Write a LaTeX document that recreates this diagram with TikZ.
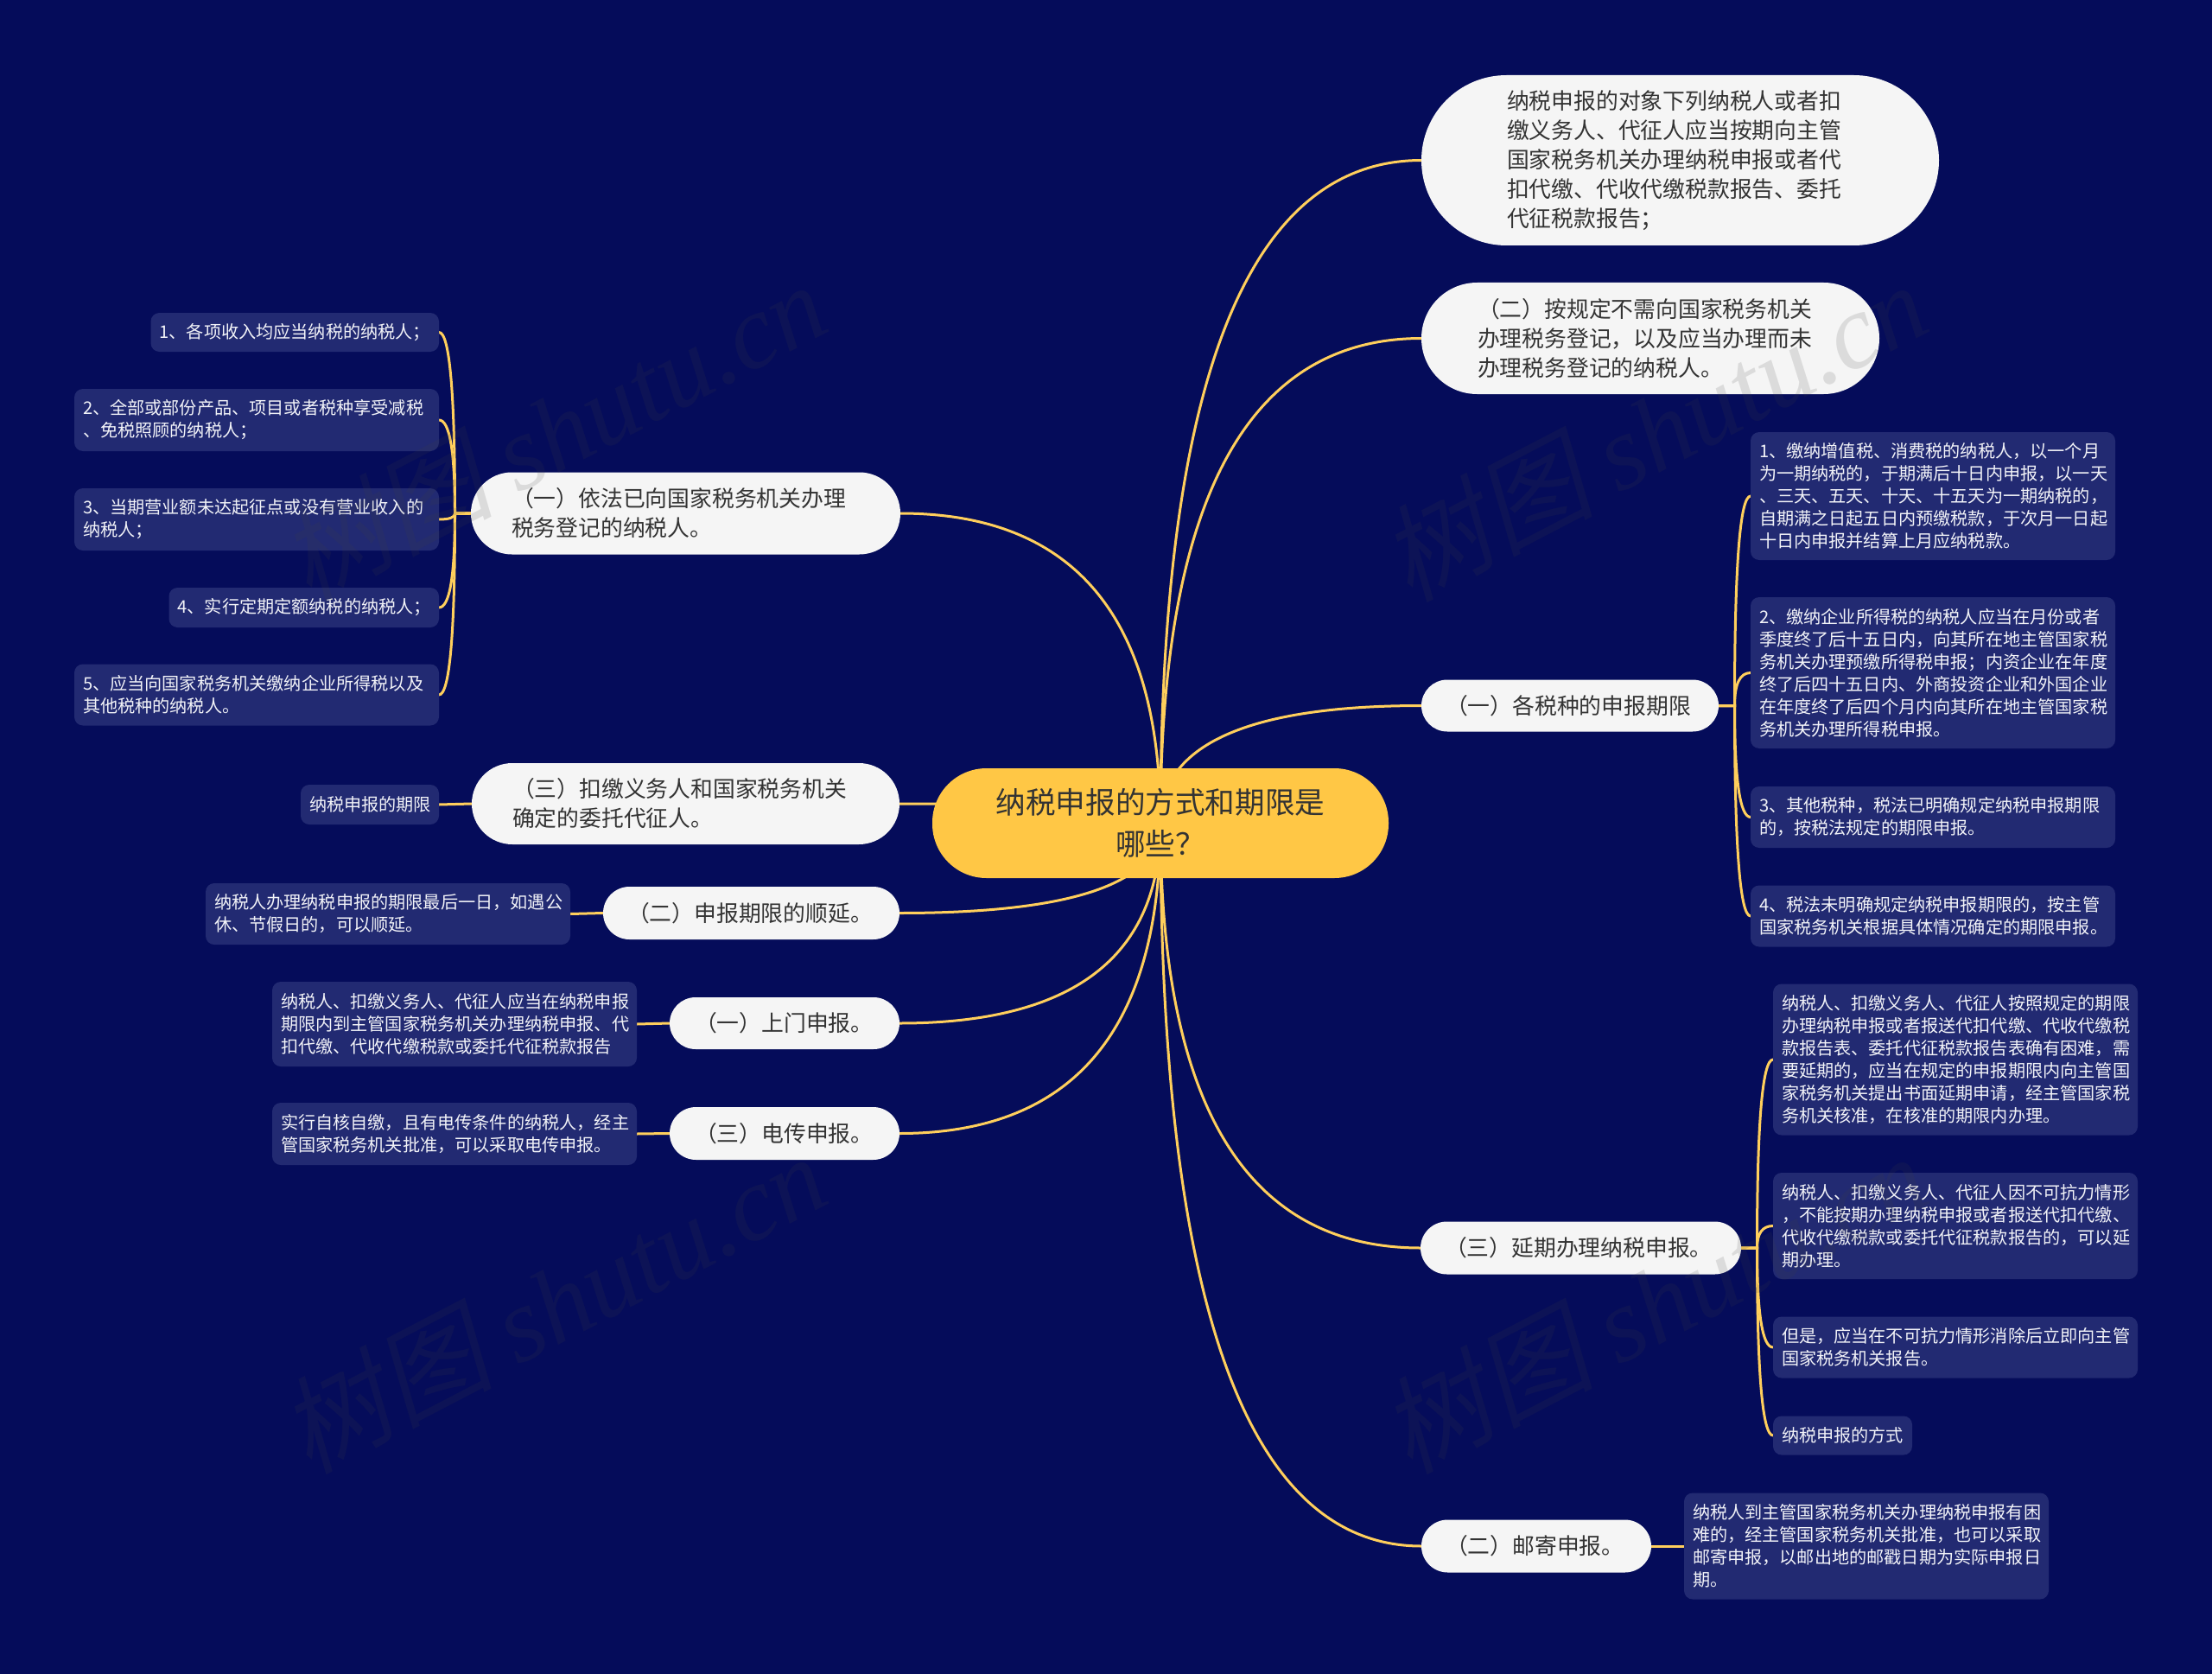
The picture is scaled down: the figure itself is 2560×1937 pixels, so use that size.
\documentclass[tikz,border=0pt]{standalone}
\usepackage{fontspec}
\setmainfont{Noto Sans CJK SC}
\newfontfamily\wmlatin{Liberation Serif}
\newfontfamily\wmcjk[FakeSlant=0.2]{Noto Sans CJK SC}
\usetikzlibrary{backgrounds,calc}
\definecolor{bgc}{HTML}{050C5A}
\definecolor{leafc}{HTML}{222A72}
\definecolor{pillc}{HTML}{F5F5F5}
\definecolor{rootc}{HTML}{FFC745}
\definecolor{linec}{HTML}{FFCF5C}
\definecolor{darktext}{HTML}{333333}
\definecolor{lighttext}{HTML}{F2F3F8}
\definecolor{wmc}{HTML}{404040}
\tikzset{
  x=0.75pt,y=-0.75pt,
  boxbase/.style={inner sep=0pt,outer sep=0pt,align=left},
  leafbox/.style 2 args={boxbase,fill=leafc,text=lighttext,rounded corners=7.5pt,
    minimum width=#1*0.75pt,minimum height=#2*0.75pt,text width=(#1-20)*0.75pt,
    font=\fontsize{15.12}{19.5}\selectfont},
  pillbox/.style n args={3}{boxbase,fill=pillc,text=darktext,rounded corners=(#2/2)*0.75pt,
    minimum width=#1*0.75pt,minimum height=#2*0.75pt,text width=(#1-2*#3)*0.75pt,
    font=\fontsize{19.35}{25.5}\selectfont},
  conn/.style={draw=linec,line width=2.25pt,line cap=round},
  watermark/.style={rotate=27.5,opacity=0.14,text=wmc,anchor=center,inner sep=0pt,font=\fontsize{92}{92}\selectfont},
}
\newcommand{\rootlink}[1]{%
  \draw[conn] let \p1=(root.center),\p2=(#1) in
    (\p1) .. controls (\x1,{\y1+0.6667*(\y2-\y1)}) and ({\x2+0.6667*(\x1-\x2)},\y2) .. (\p2);}
\newcommand{\bracketlink}[2]{%
  \draw[conn] let \p1=(#1),\p2=(#2),\n1={(\x1+\x2)/2} in
    (\p1) -- (\n1,\y1) .. controls (\n1,{\y1+0.6667*(\y2-\y1)}) and ({\x2+0.6667*(\n1-\x2)},\y2) .. (\p2);}
\begin{document}
\begin{tikzpicture}
\useasboundingbox (0,0) rectangle (2560,1937);
% root
\node[boxbase,fill=rootc,text=darktext,rounded corners=47pt,minimum width=396pt,minimum height=95.25pt,
  text width=330pt,align=center,font=\fontsize{25.95}{36}\selectfont] (root) at (1343,952.5) {纳税申报的方式和期限是\\哪些？};
% right side
\node[pillbox={599}{197}{99}] (t1) at (1944.5,185.5) {纳税申报的对象下列纳税人或者扣\\缴义务人、代征人应当按期向主管\\国家税务机关办理纳税申报或者代\\扣代缴、代收代缴税款报告、委托\\代征税款报告；};
\node[pillbox={530}{129}{65}] (t2) at (1910,391.5) {（二）按规定不需向国家税务机关\\办理税务登记，以及应当办理而未\\办理税务登记的纳税人。};
\node[pillbox={344}{60}{28}] (p1) at (1817,816.5) {（一）各税种的申报期限};
\node[leafbox={422}{148}] (r1) at (2237,574) {1、缴纳增值税、消费税的纳税人，以一个月\\为一期纳税的，于期满后十日内申报，以一天\\、三天、五天、十天、十五天为一期纳税的，\\自期满之日起五日内预缴税款，于次月一日起\\十日内申报并结算上月应纳税款。};
\node[leafbox={422}{175}] (r2) at (2237,778.5) {2、缴纳企业所得税的纳税人应当在月份或者\\季度终了后十五日内，向其所在地主管国家税\\务机关办理预缴所得税申报；内资企业在年度\\终了后四十五日内、外商投资企业和外国企业\\在年度终了后四个月内向其所在地主管国家税\\务机关办理所得税申报。};
\node[leafbox={422}{71}] (r3) at (2237,945.5) {3、其他税种，税法已明确规定纳税申报期限\\的，按税法规定的期限申报。};
\node[leafbox={422}{71}] (r4) at (2237,1060) {4、税法未明确规定纳税申报期限的，按主管\\国家税务机关根据具体情况确定的期限申报。};
\node[pillbox={371}{61}{28}] (p2) at (1829.5,1444) {（三）延期办理纳税申报。};
\node[leafbox={422}{175}] (s1) at (2263,1226) {纳税人、扣缴义务人、代征人按照规定的期限\\办理纳税申报或者报送代扣代缴、代收代缴税\\款报告表、委托代征税款报告表确有困难，需\\要延期的，应当在规定的申报期限内向主管国\\家税务机关提出书面延期申请，经主管国家税\\务机关核准，在核准的期限内办理。};
\node[leafbox={422}{123}] (s2) at (2263,1418.5) {纳税人、扣缴义务人、代征人因不可抗力情形\\，不能按期办理纳税申报或者报送代扣代缴、\\代收代缴税款或委托代征税款报告的，可以延\\期办理。};
\node[leafbox={422}{71}] (s3) at (2263,1559) {但是，应当在不可抗力情形消除后立即向主管\\国家税务机关报告。};
\node[leafbox={161}{45}] (s4) at (2132.5,1661) {纳税申报的方式};
\node[pillbox={266}{61}{28}] (p3) at (1778,1789) {（二）邮寄申报。};
\node[leafbox={422}{123}] (q1) at (2160,1789) {纳税人到主管国家税务机关办理纳税申报有困\\难的，经主管国家税务机关批准，也可以采取\\邮寄申报，以邮出地的邮戳日期为实际申报日\\期。};
% left side
\node[pillbox={497}{95}{47}] (a1) at (793.5,594) {（一）依法已向国家税务机关办理\\税务登记的纳税人。};
\node[leafbox={333.5}{45}] (l1) at (341.25,384.5) {1、各项收入均应当纳税的纳税人；};
\node[leafbox={422}{72}] (l2) at (297,486) {2、全部或部份产品、项目或者税种享受减税\\、免税照顾的纳税人；};
\node[leafbox={422}{72}] (l3) at (297,601) {3、当期营业额未达起征点或没有营业收入的\\纳税人；};
\node[leafbox={312.5}{46}] (l4) at (351.75,703) {4、实行定期定额纳税的纳税人；};
\node[leafbox={422}{71}] (l5) at (297,804) {5、应当向国家税务机关缴纳企业所得税以及\\其他税种的纳税人。};
\node[pillbox={495}{94}{47}] (a3) at (793.5,930) {（三）扣缴义务人和国家税务机关\\确定的委托代征人。};
\node[leafbox={160}{46}] (l6) at (428,931) {纳税申报的期限};
\node[pillbox={343}{61}{28}] (a2) at (869.5,1056.5) {（二）申报期限的顺延。};
\node[leafbox={422}{71}] (l7) at (449,1057.5) {纳税人办理纳税申报的期限最后一日，如遇公\\休、节假日的，可以顺延。};
\node[pillbox={266}{60}{29}] (a4) at (908,1184) {（一）上门申报。};
\node[leafbox={422}{98}] (l8) at (526,1185) {纳税人、扣缴义务人、代征人应当在纳税申报\\期限内到主管国家税务机关办理纳税申报、代\\扣代缴、代收代缴税款或委托代征税款报告};
\node[pillbox={266}{61}{29}] (a5) at (908,1311.5) {（三）电传申报。};
\node[leafbox={422}{72}] (l9) at (526,1312) {实行自核自缴，且有电传条件的纳税人，经主\\管国家税务机关批准，可以采取电传申报。};
% connectors below the nodes
\begin{scope}[on background layer]
\fill[bgc] (0,0) rectangle (2560,1937);
\rootlink{t1.west}\rootlink{t2.west}\rootlink{p1.west}\rootlink{p2.west}\rootlink{p3.west}
\rootlink{a1.east}\rootlink{a3.east}\rootlink{a2.east}\rootlink{a4.east}\rootlink{a5.east}
\bracketlink{p1.east}{r1.west}\bracketlink{p1.east}{r2.west}\bracketlink{p1.east}{r3.west}\bracketlink{p1.east}{r4.west}
\bracketlink{p2.east}{s1.west}\bracketlink{p2.east}{s2.west}\bracketlink{p2.east}{s3.west}\bracketlink{p2.east}{s4.west}
\bracketlink{a1.west}{l1.east}\bracketlink{a1.west}{l2.east}\bracketlink{a1.west}{l3.east}\bracketlink{a1.west}{l4.east}\bracketlink{a1.west}{l5.east}
\draw[conn] (p3.east) -- (q1.west);
\draw[conn] (a3.west) -- (l6.east);
\draw[conn] (a2.west) -- (l7.east);
\draw[conn] (a4.west) -- (l8.east);
\draw[conn] (a5.west) -- (l9.east);
\end{scope}
% watermarks
\node[watermark] (w1) at (640,498) {{\wmcjk 树图} {\wmlatin\itshape shutu.cn}};
\node[watermark] (w2) at (1914,498) {{\wmcjk 树图} {\wmlatin\itshape shutu.cn}};
\node[watermark] (w3) at (640,1507) {{\wmcjk 树图} {\wmlatin\itshape shutu.cn}};
\node[watermark] (w4) at (1914,1507) {{\wmcjk 树图} {\wmlatin\itshape shutu.cn}};
\end{tikzpicture}
\end{document}
